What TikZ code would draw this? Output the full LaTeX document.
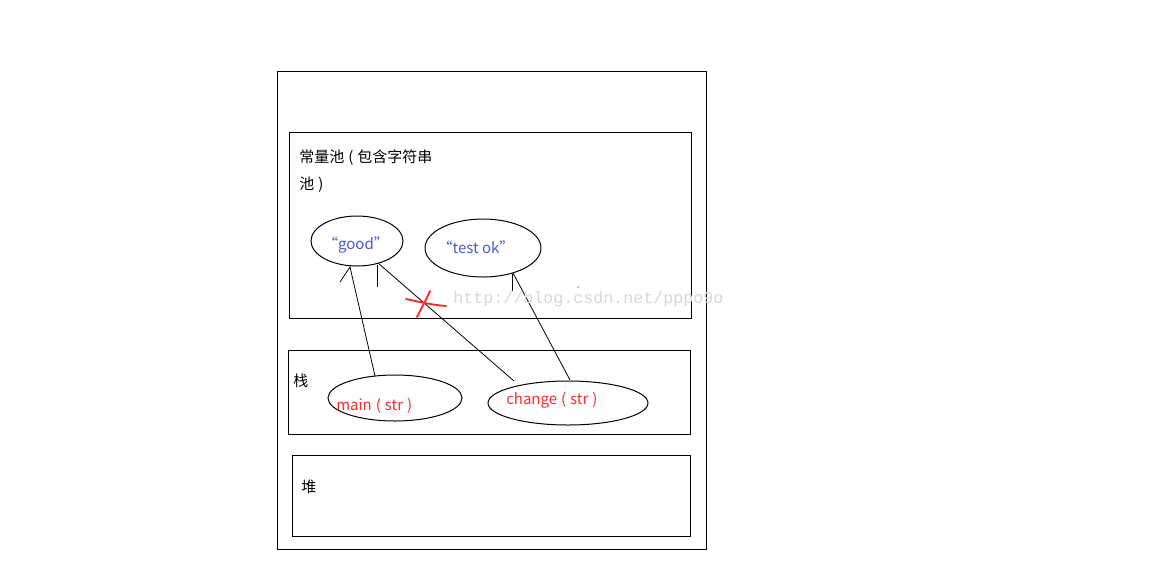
\documentclass[tikz,border=0pt]{standalone}
\usepackage{fontspec}
\newfontfamily\cjk{Noto Sans CJK SC}
\newfontfamily\wm{Liberation Mono}
\definecolor{txtblue}{HTML}{4A5AD8}
\definecolor{txtred}{HTML}{FF2A2A}
\definecolor{wmgray}{HTML}{D8D8D8}
\newcommand{\gp}{\hspace{3pt}}
\begin{document}
\begin{tikzpicture}[x=0.75pt,y=-0.75pt,
  box/.style={draw=black,line width=0.75pt},
  conn/.style={draw=black,line width=0.6pt},
  lbl/.style={font=\cjk\fontsize{11.25pt}{13pt}\selectfont,anchor=west,inner sep=0pt},
  val/.style={font=\cjk\fontsize{11.25pt}{13pt}\selectfont,text=txtblue,inner sep=0pt},
  fn/.style={font=\cjk\fontsize{11.25pt}{13pt}\selectfont,text=txtred,inner sep=0pt}]
\useasboundingbox[fill=white] (0,0) rectangle (1156,579);
% containers
\draw[box] (277,71) rectangle (706,549);
\draw[box] (289,132) rectangle (691,318);
\draw[box] (288,350) rectangle (690,434);
\draw[box] (292,455) rectangle (690,536);
% labels
\node[lbl] (pool1) at (299,158) {常量池\gp{}(\gp{}包含字符串};
\node[lbl] (pool2) at (299,185) {池\gp{})};
\node[lbl] (stack) at (293,381) {栈};
\node[lbl] (heap) at (301,487) {堆};
% ellipses
\draw[box] (357,241) ellipse [x radius=46, y radius=25];
\draw[box] (483,248) ellipse [x radius=58, y radius=29];
\draw[box] (395,398) ellipse [x radius=67, y radius=23];
\draw[box] (568,403) ellipse [x radius=80, y radius=22];
\node[val] (good) at (356,245) {“good”};
\node[val] (testok) at (476,247) {“test ok”};
\node[fn,anchor=west] (main) at (336,406) {main\gp{}(\gp{}str\gp{})};
\node[fn,anchor=west] (change) at (506,400) {change\gp{}(\gp{}str\gp{})};
% connectors
\coordinate (mainTop) at (375,376);
\coordinate (goodB1) at (350,267);
\coordinate (goodB2) at (378,263);
\coordinate (chTop1) at (514,381);
\coordinate (chTop2) at (570,380);
\coordinate (okB) at (513,273);
\draw[conn] (mainTop) -- (goodB1) -- (340,282);
\draw[conn] (chTop1) -- (goodB2);
\draw[conn] (377,265) -- (377,287);
\draw[conn] (chTop2) -- (okB);
\draw[conn] (512,274) -- (512,291);
\fill (578,287) circle (0.7);
% red cross
\draw[txtred,line width=1.4pt,line cap=round] (406,299) .. controls (420,302) and (432,305) .. (446,306);
\draw[txtred,line width=1.4pt,line cap=round] (430,291) .. controls (426,300) and (421,309) .. (417,317);
% watermark
\node[font=\wm\fontsize{12.5pt}{14pt}\selectfont,text=wmgray,anchor=west,inner sep=0pt] (wmk) at (453,299) {http://blog.csdn.net/pppo9o};
\end{tikzpicture}
\end{document}
